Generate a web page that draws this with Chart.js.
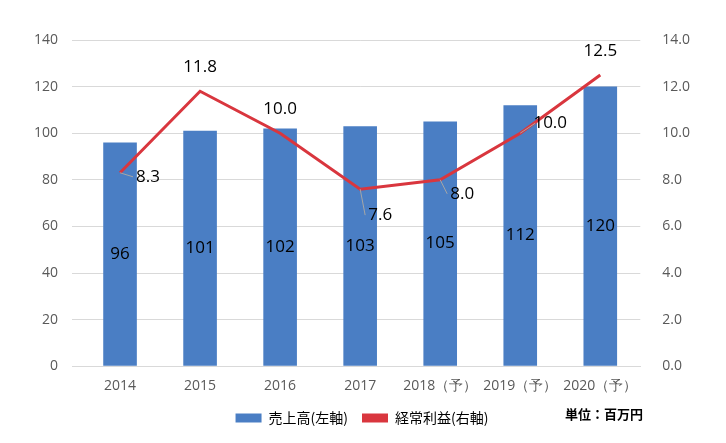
<!DOCTYPE html>
<html><head><meta charset="utf-8">
<script src="https://cdn.jsdelivr.net/npm/chart.js@4"></script>
<style>body{margin:0;background:#fff}#w{width:726px;height:443px}</style>
</head><body><div id="w"><canvas id="c"></canvas></div>
<script>
const categories=["2014","2015","2016","2017","2018（予）","2019（予）","2020（予）"];
const sales=[96,101,102,103,105,112,120];
const profit=[8.3,11.8,10.0,7.6,8.0,10.0,12.5];
const leftTicks=[0,140,20];
const rightTicks=[0,14,2];
const F='"Noto Sans CJK JP","Noto Sans",sans-serif';
const N='"Open Sans","Noto Sans",sans-serif';
const off=[[28,4,1],[0,-24,0],[0,-24,0],[20,26,1],[22,14,1],[30,-10,1],[0,-24,0]];
const labels={id:'labels',afterDatasetsDraw(ch){
 const x=ch.ctx;x.save();x.font='17px '+N;x.fillStyle='#000';x.textAlign='center';x.textBaseline='middle';
 ch.getDatasetMeta(0).data.forEach((b,i)=>{x.fillText(sales[i],b.x,(b.y+b.base)/2);});
 ch.getDatasetMeta(1).data.forEach((p,i)=>{const o=off[i];const tx=p.x+o[0],ty=p.y+o[1];
  if(o[2]){x.strokeStyle='#a6a6a6';x.lineWidth=1;x.beginPath();x.moveTo(p.x,p.y);x.lineTo(tx-15,ty);x.stroke();}
  x.fillText(profit[i].toFixed(1),tx,ty);});
 x.font='bold 13px '+F;x.textAlign='left';x.fillText('単位：百万円',565,414);x.restore();}};
new Chart(document.getElementById('c'),{
 data:{labels:categories,datasets:[
  {type:'bar',label:'売上高(左軸)',data:sales,yAxisID:'y',backgroundColor:'#4A7EC4',barPercentage:0.42,categoryPercentage:1,order:1},
  {type:'line',label:'経常利益(右軸)',data:profit,yAxisID:'y1',borderColor:'#D9363E',backgroundColor:'#D9363E',borderWidth:3,pointRadius:0,tension:0,order:0}]},
 options:{responsive:true,maintainAspectRatio:false,animation:false,
  layout:{padding:{left:20,right:22,top:40,bottom:8}},
  plugins:{tooltip:{enabled:false},legend:{position:'bottom',labels:{font:{size:14,family:F},color:'#404040',boxWidth:26,boxHeight:9,padding:14,
   generateLabels(ch){return ch.data.datasets.map((d,i)=>({text:d.label,fillStyle:d.backgroundColor,strokeStyle:d.backgroundColor,lineWidth:0,datasetIndex:i}));}}}},
  scales:{
   x:{grid:{display:false},border:{color:'#d9d9d9'},ticks:{color:'#595959',font:{size:14,family:N}}},
   y:{min:leftTicks[0],max:leftTicks[1],ticks:{stepSize:leftTicks[2],padding:14,color:'#595959',font:{size:14,family:N}},grid:{color:'#d9d9d9'},border:{display:false}},
   y1:{position:'right',min:rightTicks[0],max:rightTicks[1],ticks:{stepSize:rightTicks[2],padding:14,color:'#595959',font:{size:14,family:N},callback:v=>v.toFixed(1)},grid:{display:false},border:{display:false}}}},
 plugins:[labels]});
</script></body></html>
